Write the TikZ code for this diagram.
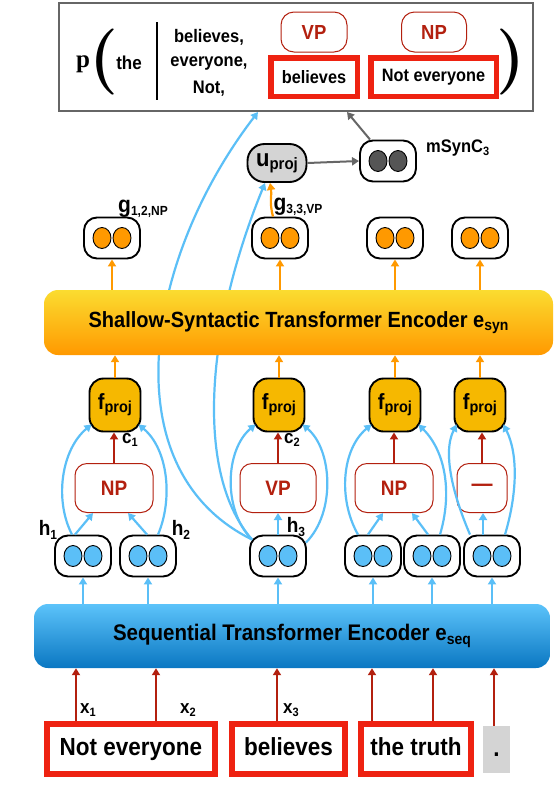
\documentclass[tikz,border=0pt]{standalone}
\usepackage{fontspec}
\setmainfont{Liberation Sans}
\newfontfamily\lmr{Latin Modern Roman}
\newfontfamily\lserif{Liberation Serif}
\usepackage{graphicx}
\usetikzlibrary{arrows.meta,calc}
\definecolor{lblue}{HTML}{5BBFF7}
\definecolor{sblue}{HTML}{5CC3FA}
\definecolor{dblue}{HTML}{0A77C2}
\definecolor{orng}{HTML}{FF9900}
\definecolor{gold}{HTML}{F6B800}
\definecolor{ylw}{HTML}{FBDC30}
\definecolor{dred}{HTML}{B3200F}
\definecolor{bred}{HTML}{EE2211}
\definecolor{grayl}{HTML}{666666}
\definecolor{dgray}{HTML}{555555}
\definecolor{lgray}{HTML}{D4D4D4}
\newcommand{\fsz}[1]{\fontsize{#1}{#1}\selectfont}
% bold, slightly tall text
\newcommand{\T}[2]{\scalebox{1}[1.1]{\fsz{#1}\bfseries #2}}
% symbol with subscript
\newcommand{\Sb}[4]{\scalebox{1}[1.1]{\bfseries{\fsz{#1}#2}\raisebox{-3pt}{\fsz{#3}#4}}}
\begin{document}
\begin{tikzpicture}[x=1pt,y=-1pt,
  pairnode/.style={draw=black, line width=1.9pt, rounded corners=13pt,
    minimum width=56pt, minimum height=41pt, inner sep=0pt,
    path picture={
      \path[fill=#1, draw=black, line width=0.9pt]
        ([xshift=-10pt]path picture bounding box.center) ellipse [x radius=9pt, y radius=10.5pt];
      \path[fill=#1, draw=black, line width=0.9pt]
        ([xshift=10pt]path picture bounding box.center) ellipse [x radius=9pt, y radius=10.5pt];
    }},
  fproj/.style={draw=black, line width=1.9pt, fill=gold, rounded corners=14pt,
    minimum width=51pt, minimum height=53pt, inner sep=0pt},
  tag/.style={draw=dred, line width=1pt, rounded corners=12pt, text=dred,
    minimum height=49pt, inner sep=0pt},
  redbox/.style={draw=bred, line width=5.5pt, fill=white, inner sep=0pt},
  lbl/.style={inner sep=0pt},
  tipA/.style={-{Triangle[width=8pt,length=7pt]}},
  barr/.style={draw=lblue, line width=2.2pt, tipA},
  oarr/.style={draw=orng, line width=2.2pt, tipA},
  rarr/.style={draw=dred, line width=2.2pt, tipA},
  garr/.style={draw=grayl, line width=2pt, tipA},
]
\path[use as bounding box, fill=white] (0,0) rectangle (560,804);

% ---------- top box ----------
\node[draw=grayl, line width=2pt, fill=white, minimum width=474pt, minimum height=108pt, inner sep=0pt] (top) at (296,57) {};
\node[lbl] (pp) at (83,64) {\fsz{25}\lserif\bfseries p};
\node[lbl] (lpar) at (104,62) {\makebox[15pt][c]{\fsz{66}\lmr\bfseries (}};
\node[lbl] (the) at (129,63) {\T{17}{the}};
\coordinate (bar1) at (157,22);
\coordinate (bar2) at (157,100);
\draw[line width=2pt] (bar1) -- (bar2);
\node[lbl] (ctx1) at (209,37) {\T{16.5}{believes,}};
\node[lbl] (ctx2) at (209,63) {\T{16.5}{everyone,}};
\node[lbl] (ctx3) at (209,89) {\T{16.5}{Not,}};
\node[tag, minimum width=66pt, minimum height=40pt, rounded corners=13pt] (vptop) at (314,32) {\T{18.5}{VP}};
\node[redbox, minimum width=86.5pt, minimum height=38.5pt] (btop) at (314,77) {\T{16.3}{believes}};
\node[tag, minimum width=65pt, minimum height=40pt, rounded corners=13pt] (nptop) at (434,32) {\T{18.5}{NP}};
\node[redbox, minimum width=125.5pt, minimum height=38.5pt] (ntop) at (433.5,77) {\T{16.3}{Not everyone}};
\node[lbl] (rpar) at (511,62) {\makebox[15pt][c]{\fsz{66}\lmr\bfseries )}};

% ---------- u_proj and mSynC ----------
\node[draw=black, line width=1.9pt, fill=lgray, rounded corners=17pt, minimum width=59pt, minimum height=38pt, inner sep=0pt] (u) at (277,163)
  {\Sb{22}{u}{15}{proj}};
\node[pairnode=dgray] (m) at (388,161) {};
\node[lbl, anchor=west] (mlab) at (426,148) {\Sb{16.5}{mSynC}{11}{3}};

% ---------- h nodes ----------
\node[pairnode=lblue] (h1) at (83,556) {};
\node[pairnode=lblue] (h2) at (148,556) {};
\node[pairnode=lblue] (h3) at (278,556) {};
\node[pairnode=lblue] (h4) at (373,556) {};
\node[pairnode=lblue] (h5) at (432,556) {};
\node[pairnode=lblue] (h6) at (492,556) {};

% ---------- long blue curves (behind the encoder) ----------
\draw[barr] ($(h3.north west)+(3,5)$) .. controls +(-142,-70) and +(-113,147) .. ([xshift=-38pt]top.south);
\draw[barr] ($(h3.north west)+(3,5)$) .. controls +(-57,-65) and +(-60,147) .. ([xshift=-12pt]u.south);

% ---------- encoders ----------
\node[rounded corners=14pt, top color=ylw, bottom color=orng, minimum width=509pt, minimum height=65pt, inner sep=0pt] (syn) at (298.5,322.5)
  {\Sb{20}{Shallow-Syntactic Transformer Encoder e}{14}{syn}};
\node[rounded corners=14pt, top color=sblue, bottom color=dblue, minimum width=516pt, minimum height=64pt, inner sep=0pt] (seq) at (292,636)
  {\Sb{20.5}{Sequential Transformer Encoder e}{14}{seq}};

% ---------- g nodes ----------
\node[pairnode=orng] (g1) at (112,238) {};
\node[pairnode=orng] (g2) at (280,238) {};
\node[pairnode=orng] (g3) at (395,238) {};
\node[pairnode=orng] (g4) at (480,238) {};
\node[lbl] (g1lab) at (143,209) {\Sb{21}{g}{12}{1,2,NP}};
\node[lbl] (g2lab) at (298,207) {\Sb{21}{g}{12}{3,3,VP}};

% ---------- f_proj nodes ----------
\node[fproj] (f1) at (115,405) {\Sb{20}{f}{14.5}{proj}};
\node[fproj] (f2) at (279,405) {\Sb{20}{f}{14.5}{proj}};
\node[fproj] (f3) at (395,405) {\Sb{20}{f}{14.5}{proj}};
\node[fproj] (f4) at (480,405) {\Sb{20}{f}{14.5}{proj}};

% ---------- tag boxes ----------
\node[tag, minimum width=78pt] (t1) at (114,488) {\T{19}{NP}};
\node[tag, minimum width=76pt] (t2) at (278,488) {\T{19}{VP}};
\node[tag, minimum width=78pt] (t3) at (394,488) {\T{19}{NP}};
\node[tag, minimum width=50pt] (t4) at (482,488) {\T{21}{—}};

% ---------- bottom word boxes ----------
\node[redbox, minimum width=168pt, minimum height=50pt, text height=18pt, text depth=5pt] (b1) at (131,749) {\T{22.5}{Not everyone}};
\node[redbox, minimum width=113pt, minimum height=50pt, text height=18pt, text depth=5pt] (b2) at (288.5,749) {\T{22.5}{believes}};
\node[redbox, minimum width=110pt, minimum height=50pt, text height=18pt, text depth=5pt] (b3) at (416,749) {\T{22.5}{the truth}};
\node[fill=lgray, minimum width=27pt, minimum height=47pt, inner sep=0pt, text height=18pt, text depth=5pt] (dot) at (496.5,749.5) {\T{22.5}{.}};

% ---------- bottom red arrows ----------
\draw[rarr] ([xshift=-55pt]b1.north) coordinate (xa1) -- (xa1 |- seq.south);
\draw[rarr] ([xshift=25pt]b1.north) coordinate (xa2) -- (xa2 |- seq.south);
\draw[rarr] ([xshift=-11.5pt]b2.north) coordinate (xa3) -- (xa3 |- seq.south);
\draw[rarr] ([xshift=-44pt]b3.north) coordinate (xa4) -- (xa4 |- seq.south);
\draw[rarr] ([xshift=17pt]b3.north) coordinate (xa5) -- (xa5 |- seq.south);
\draw[rarr] ([xshift=-2.5pt]dot.north) coordinate (xa6) -- (xa6 |- seq.south);
\node[lbl] (x1lab) at (88,710) {\Sb{17}{x}{11}{1}};
\node[lbl] (x2lab) at (188,710) {\Sb{17}{x}{11}{2}};
\node[lbl] (x3lab) at (291,710) {\Sb{17}{x}{11}{3}};

% ---------- seq -> h ----------
\foreach \n in {h1,h2,h3,h4,h5,h6}{
  \draw[barr] (seq.north -| \n) -- (\n.south);
}
\node[lbl] (h1lab) at (48,530) {\Sb{19}{h}{12}{1}};
\node[lbl] (h2lab) at (181,530) {\Sb{19}{h}{12}{2}};
\node[lbl] (h3lab) at (296,527) {\Sb{19}{h}{12}{3}};

% ---------- h -> tag ----------
\draw[barr] ([xshift=-8pt]h1.north) -- ([xshift=-21pt]t1.south);
\draw[barr] ([xshift=-1pt]h2.north) -- ([xshift=14pt]t1.south);
\draw[barr] (h3.north) -- (h3.north |- t2.south);
\draw[barr] ([xshift=-5pt]h4.north) -- ([xshift=-11pt]t3.south);
\draw[barr] ([xshift=-4pt]h5.north) -- ([xshift=18pt]t3.south);
\draw[barr] ([xshift=-9pt]h6.north) coordinate (h6t) -- (h6t |- t4.south);

% ---------- h -> f_proj curves ----------
\draw[barr] ([xshift=-11pt]h1.north) .. controls +(-18,-35) and +(-30,25) .. ($(f1.south west)+(3,-8)$);
\draw[barr] ([xshift=10pt]h2.north) .. controls +(15,-35) and +(30,25) .. ($(f1.south east)+(-3,-8)$);
\draw[barr] ($(h3.north west)+(3,5)$) .. controls +(-30,-30) and +(-30,25) .. ($(f2.south west)+(3,-8)$);
\draw[barr] ($(h3.north east)+(-1,8)$) .. controls +(30,-30) and +(30,25) .. ($(f2.south east)+(-3,-8)$);
\draw[barr] ([xshift=-15pt]h4.north) .. controls +(-20,-35) and +(-30,25) .. ($(f3.south west)+(3,-8)$);
\draw[barr] ([xshift=8pt]h5.north) .. controls +(12,-40) and +(28,28) .. ($(f3.south east)+(-3,-8)$);
\draw[barr] ([xshift=-22pt]h6.north) .. controls +(-15,-35) and +(-15,30) .. ($(f4.south west)+(3,-8)$);
\draw[barr] ([xshift=13pt]h6.north) .. controls +(12,-40) and +(15,30) .. ($(f4.south east)+(-3,-8)$);

% ---------- tag -> f_proj (red) ----------
\draw[rarr] (t1.north) -- (t1.north |- f1.south);
\draw[rarr] (t2.north) -- (t2.north |- f2.south);
\draw[rarr] (t3.north) -- (t3.north |- f3.south);
\draw[rarr] (t4.north) -- (t4.north |- f4.south);
\node[lbl] (c1lab) at (130,440) {\Sb{17}{c}{11}{1}};
\node[lbl] (c2lab) at (292,440) {\Sb{17}{c}{11}{2}};

% ---------- f_proj -> syn, syn -> g (orange) ----------
\foreach \n in {f1,f2,f3,f4}{
  \draw[oarr] (\n.north) -- (\n.north |- syn.south);
}
\foreach \n in {g1,g2,g3,g4}{
  \draw[oarr] (syn.north -| \n) -- (\n.south);
}
\draw[oarr] ([xshift=-7pt]g2.north) .. controls +(-4,-15) and +(2,12) .. ([xshift=-7pt]u.south);

% ---------- gray arrows ----------
\draw[garr] (u.east) -- (m.west);
\draw[garr] ([xshift=-18pt]m.north) -- ([xshift=51pt]top.south);
\end{tikzpicture}
\end{document}
